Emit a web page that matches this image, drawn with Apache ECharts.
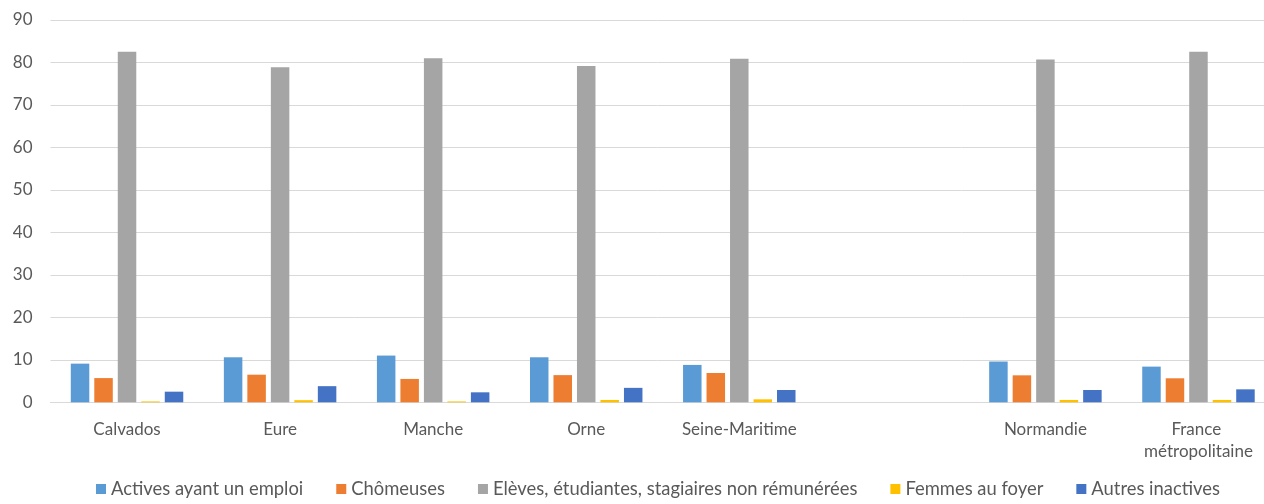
<!DOCTYPE html>
<html>
<head>
<meta charset="utf-8">
<script src="https://cdn.jsdelivr.net/npm/echarts@6/dist/echarts.min.js"></script>
<style>
  html, body { margin: 0; padding: 0; background: #ffffff; }
  #chart { width: 1264px; height: 504px; }
</style>
</head>
<body>
<div id="chart"></div>
<script>
// Territoires (une catégorie vide sépare les départements des ensembles régionaux)
const categories = ['Calvados', 'Eure', 'Manche', 'Orne', 'Seine-Maritime', '', 'Normandie', 'France métropolitaine'];

// Répartition en %
const activesEmploi = [9.1, 10.6, 11.0, 10.6, 8.8, null, 9.6, 8.4];
const chomeuses     = [5.7, 6.5, 5.5, 6.4, 6.9, null, 6.35, 5.65];
const eleves        = [82.5, 78.9, 81.0, 79.2, 80.9, null, 80.7, 82.5];
const femmesFoyer   = [0.2, 0.5, 0.2, 0.55, 0.7, null, 0.55, 0.55];
const autresInact   = [2.5, 3.8, 2.35, 3.4, 2.9, null, 2.9, 3.05];

const seriesNames = [
  'Actives ayant un emploi',
  'Chômeuses',
  'Elèves, étudiantes, stagiaires non rémunérées',
  'Femmes au foyer',
  'Autres inactives'
];
const seriesData = [activesEmploi, chomeuses, eleves, femmesFoyer, autresInact];
const colors = ['#5B9BD5', '#ED7D31', '#A5A5A5', '#FFC000', '#4472C4'];

const FONT = 'Lato, "Liberation Sans", sans-serif';
const TEXT = '#595959';

const chart = echarts.init(document.getElementById('chart'), null, { renderer: 'canvas' });
chart.setOption({
  animation: false,
  color: colors,
  // the plot area runs slightly past the right edge of the canvas
  grid: {
    left: 50.5, width: 1224.5, top: 20, height: 382.3,
    containLabel: false, outerBoundsMode: 'none'
  },
  legend: {
    data: seriesNames,
    top: 480,
    left: 96,
    padding: 0,
    icon: 'rect',
    itemWidth: 10,
    itemHeight: 10,
    itemGap: 33,
    textStyle: { color: TEXT, fontFamily: FONT, fontSize: 18.4 }
  },
  xAxis: {
    type: 'category',
    data: categories,
    axisLine: { lineStyle: { color: '#d9d9d9', width: 1 } },
    axisTick: { show: false },
    axisLabel: {
      interval: 0,
      color: TEXT,
      fontFamily: FONT,
      fontSize: 17,
      lineHeight: 22,
      margin: 16,
      width: 130,
      overflow: 'break'
    }
  },
  yAxis: {
    type: 'value',
    min: 0,
    max: 90,
    interval: 10,
    axisLine: { show: false },
    axisTick: { show: false },
    splitLine: { lineStyle: { color: '#d9d9d9', width: 1 } },
    axisLabel: { color: TEXT, fontFamily: FONT, fontSize: 17, margin: 18 }
  },
  series: seriesNames.map((name, i) => ({
    name,
    type: 'bar',
    data: seriesData[i],
    barWidth: 18.5,
    barGap: '27%',
    itemStyle: { color: colors[i] }
  }))
});
</script>
</body>
</html>
